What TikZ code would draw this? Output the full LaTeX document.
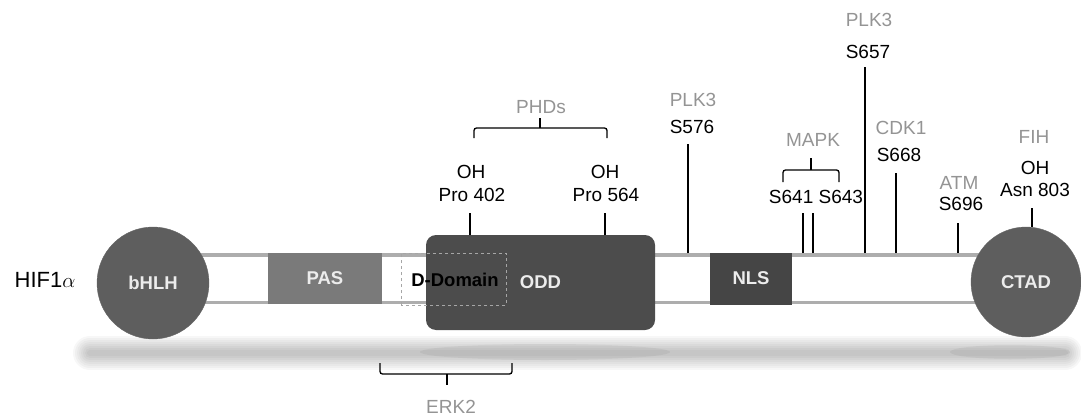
\documentclass[tikz,border=0pt]{standalone}
\usepackage{fontspec}
\setmainfont{Liberation Sans}
\definecolor{kinase}{gray}{0.58}
\definecolor{tube}{gray}{0.68}
\definecolor{ballgray}{gray}{0.37}
\definecolor{pasgray}{gray}{0.48}
\definecolor{oddgray}{gray}{0.30}
\definecolor{nlsgray}{gray}{0.27}
\begin{document}
\begin{tikzpicture}[x=1pt,y=1pt,
    lbl/.style={font=\fontsize{19}{21}\selectfont, inner sep=0pt},
    kin/.style={lbl, text=kinase},
    dom/.style={font=\bfseries\fontsize{18.5}{20}\selectfont, text=gray!15, inner sep=0pt},
    site/.style={line width=1.3pt},
    bracket/.style={line width=1.3pt, rounded corners=2.5pt}]
    \useasboundingbox (0,0) rectangle (1081,416);
    % shadow under the chain
    \foreach \w in {34,30,...,4}
        \draw[line width=\w, line cap=round, opacity=0.03] (90,63) -- (1065,63);
    \fill[black,opacity=0.05] (545,64) ellipse (125 and 8);
    \fill[black,opacity=0.05] (1010,64) ellipse (60 and 7);
    % tube
    \fill[white] (190,113) rectangle (1010,162);
    \draw[tube, line width=4] (190,161.5) -- (1010,161.5);
    \draw[tube, line width=3] (190,113.5) -- (1010,113.5);
    % domains
    \node[dom, rectangle, fill=pasgray, minimum width=114, minimum height=51] (pas) at (325,137.5) {PAS};
    \node[dom, rectangle, rounded corners=10, fill=oddgray, minimum width=229, minimum height=95] (odd) at (540.5,133.5) {\hspace*{0pt}ODD};
    \draw[gray!70, dashed, line width=0.8pt] (401,111) rectangle (506,163);
    \node[font=\bfseries\fontsize{18.5}{20}\selectfont, inner sep=0pt] (ddom) at (455,136) {D-Domain};
    \node[dom, rectangle, fill=nlsgray, minimum width=82, minimum height=52] (nls) at (751,137.5) {NLS};
    \node[dom, circle, fill=ballgray, draw=gray!80!black, minimum size=112] (bhlh) at (153,133) {bHLH};
    \node[dom, circle, fill=ballgray, draw=gray!80!black, minimum size=110] (ctad) at (1026,134) {CTAD};
    \node[font=\fontsize{22}{24}\selectfont, inner sep=0pt] (hif) at (45,136) {HIF1$\alpha$};
    % hydroxylation sites in ODD
    \coordinate (b402) at (470,181); \coordinate (t402) at (470,203);
    \coordinate (b564) at (605,181); \coordinate (t564) at (605,203);
    \draw[site] (b402) -- (t402);
    \draw[site] (b564) -- (t564);
    \node[lbl] (pro402) at (472,221) {Pro 402};
    \node[lbl] (oh402) at (471,244) {OH};
    \node[lbl] (pro564) at (606,221) {Pro 564};
    \node[lbl] (oh564) at (605,244) {OH};
    \draw[bracket] (474,278) -- (474,288) -- (607,288) -- (607,278);
    \draw[bracket] (540,288) -- (540,298);
    \node[kin] (phd) at (541,309) {PHDs};
    % phosphorylation sites
    \coordinate (b576) at (688,163); \coordinate (t576) at (688,272);
    \draw[site] (b576) -- (t576);
    \node[lbl] (s576) at (692,289) {S576};
    \node[kin] (plkA) at (693,316) {PLK3};
    \coordinate (b641) at (803,163); \coordinate (t641) at (803,203);
    \coordinate (b643) at (813,163); \coordinate (t643) at (813,203);
    \draw[site] (b641) -- (t641);
    \draw[site] (b643) -- (t643);
    \node[lbl] (s641) at (816,219) {S641 S643};
    \draw[bracket] (783,234) -- (783,246) -- (839,246) -- (839,234);
    \draw[bracket] (811,246) -- (811,258);
    \node[kin] (mapk) at (813,276) {MAPK};
    \coordinate (b657) at (865,163); \coordinate (t657) at (865,349);
    \draw[site] (b657) -- (t657);
    \node[lbl] (s657) at (868,364) {S657};
    \node[kin] (plkB) at (869,396) {PLK3};
    \coordinate (b668) at (896,163); \coordinate (t668) at (896,243);
    \draw[site] (b668) -- (t668);
    \node[lbl] (s668) at (899,261) {S668};
    \node[kin] (cdk) at (901,288) {CDK1};
    \coordinate (b696) at (958,163); \coordinate (t696) at (958,193);
    \draw[site] (b696) -- (t696);
    \node[lbl] (s696) at (961,212) {S696};
    \node[kin] (atm) at (959,233) {ATM};
    % asparagine site in CTAD
    \coordinate (t803) at (1032,208);
    \draw[site] (ctad.north -| t803) -- (t803);
    \node[lbl] (asn803) at (1035,226) {Asn 803};
    \node[lbl] (oh803) at (1035,248) {OH};
    \node[kin] (fih) at (1034,279) {FIH};
    % ERK2 bracket below
    \draw[bracket] (380,53) -- (380,42) -- (512,42) -- (512,53);
    \draw[bracket] (447,42) -- (447,31);
    \node[kin] (erk) at (451,9) {ERK2};
\end{tikzpicture}
\end{document}
